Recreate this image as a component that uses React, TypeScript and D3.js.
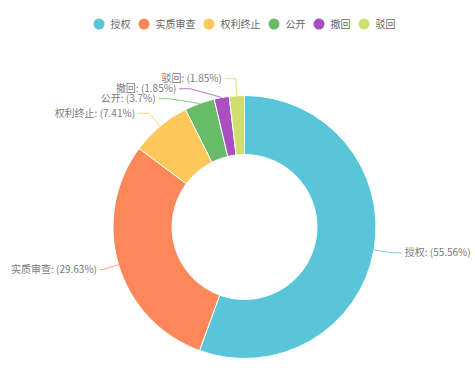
import React, { useEffect, useRef } from 'react';
import * as d3 from 'd3';

const categories = ['授权', '实质审查', '权利终止', '公开', '撤回', '驳回'];
const counts = [30, 16, 4, 2, 1, 1];
const percentLabels = ['55.56%', '29.63%', '7.41%', '3.7%', '1.85%', '1.85%'];
const colors = ['#58c6d8', '#fc8859', '#fcc85b', '#68bc69', '#a94fc2', '#cfdf6b'];

const W = 475;
const H = 381;
const FONT = '"Noto Sans CJK SC", "Noto Sans", sans-serif';

const PieChart: React.FC = () => {
  const ref = useRef<SVGSVGElement>(null);

  useEffect(() => {
    if (!ref.current) return;
    const svg = d3.select(ref.current);
    svg.selectAll('*').remove();

    const cx = 244.5;
    const cy = 227;
    const outer = 131.5;
    const inner = 72.5;
    const len = 17;
    const len2 = 11;
    const R = outer + len;
    const minLeft = 11;

    const data = categories.map((name, i) => ({ name, value: counts[i], pct: percentLabels[i], color: colors[i] }));
    type D = typeof data[number];

    const pie = d3.pie<D>().sort(null).value(d => d.value);
    const arcs = pie(data);
    const arc = d3.arc<d3.PieArcDatum<D>>().innerRadius(inner).outerRadius(outer);

    const g = svg.append('g').attr('transform', `translate(${cx},${cy})`);
    g.selectAll('path')
      .data(arcs)
      .join('path')
      .attr('d', arc)
      .attr('fill', d => d.data.color)
      .attr('stroke', '#fff')
      .attr('stroke-width', 1);

    // label positions, pushed apart on each side so they don't collide
    const labels = arcs.map(a => {
      const mid = (a.startAngle + a.endAngle) / 2;
      const s = Math.sin(mid);
      const c = Math.cos(mid);
      return {
        a,
        right: s >= 0,
        x0: outer * s,
        y0: -outer * c,
        y: -R * c,
      };
    });
    const gap = 10;
    [true, false].forEach(side => {
      const list = labels.filter(l => l.right === side).sort((p, q) => p.y - q.y);
      for (let i = 1; i < list.length; i++) {
        if (list[i].y < list[i - 1].y + gap) list[i].y = list[i - 1].y + gap;
      }
    });

    labels.forEach(l => {
      const dx = Math.sqrt(Math.max(0, R * R - l.y * l.y));
      const x1 = l.right ? dx : -dx;
      let x2 = l.right ? x1 + len2 : x1 - len2;
      const text = g.append('text')
        .attr('y', l.y)
        .attr('dy', '0.35em')
        .attr('text-anchor', l.right ? 'start' : 'end')
        .attr('font-family', FONT)
        .attr('font-size', 10)
        .attr('fill', '#7a7a7a')
        .text(`${l.a.data.name}: (${l.a.data.pct})`);
      const tw = (text.node() as SVGTextElement).getComputedTextLength();
      if (!l.right && cx + x2 - 3 - tw < minLeft) {
        x2 = minLeft - cx + tw + 3;
      }
      text.attr('x', l.right ? x2 + 3 : x2 - 3);
      g.insert('path', 'text')
        .attr('d', d3.line()([[l.x0, l.y0], [x1, l.y], [x2, l.y]]))
        .attr('fill', 'none')
        .attr('stroke', l.a.data.color)
        .attr('stroke-opacity', 0.8)
        .attr('stroke-width', 1);
    });

    // legend
    const legend = svg.append('g');
    const iconR = 5.5;
    const textGap = 6;
    const itemGap = 8;
    const items = legend.selectAll('g').data(data).join('g');
    items.append('circle')
      .attr('cx', iconR)
      .attr('cy', 0)
      .attr('r', iconR)
      .attr('fill', d => d.color);
    const texts = items.append('text')
      .attr('x', iconR * 2 + textGap)
      .attr('dy', '0.35em')
      .attr('font-family', FONT)
      .attr('font-size', 10)
      .attr('fill', '#666')
      .text(d => d.name);
    const widths: number[] = [];
    texts.each(function () {
      widths.push((this as SVGTextElement).getComputedTextLength());
    });
    const itemW = widths.map(w => iconR * 2 + textGap + w);
    const total = d3.sum(itemW) + itemGap * (itemW.length - 1);
    let x = cx - total / 2;
    items.attr('transform', (_d, i) => {
      const t = `translate(${x},24)`;
      x += itemW[i] + itemGap;
      return t;
    });
  }, []);

  return (
    <svg
      ref={ref}
      width={W}
      height={H}
      style={{ position: 'absolute', left: 0, top: 0, background: '#fff' }}
    />
  );
};

export default function App() {
  return <PieChart />;
}
